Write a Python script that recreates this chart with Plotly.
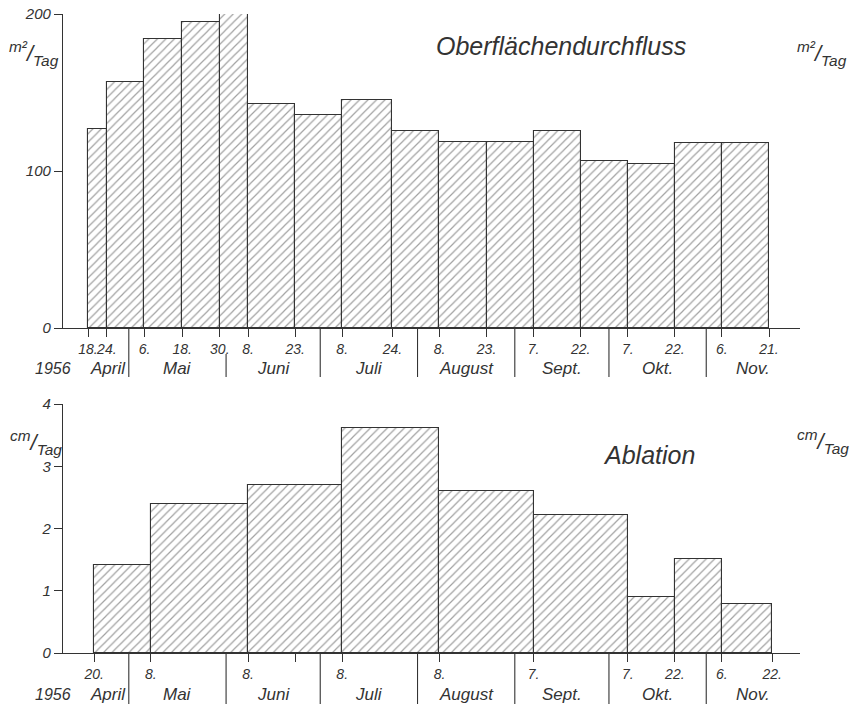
import datetime as dt
import plotly.graph_objects as go

# ---------------- data ----------------
flow_edges = ["1956-04-18", "1956-04-24", "1956-05-06", "1956-05-18", "1956-05-30",
              "1956-06-08", "1956-06-23", "1956-07-08", "1956-07-24", "1956-08-08",
              "1956-08-23", "1956-09-07", "1956-09-22", "1956-10-07", "1956-10-22",
              "1956-11-06", "1956-11-21"]
flow_values = [126.6, 156.9, 184, 195, 200, 142.7, 135.7, 145.2, 125.3, 118.3,
               118.3, 125.7, 106.6, 104.3, 117.8, 117.8]
flow_tick_dates = flow_edges
flow_tick_text = ["18.", "24.", "6.", "18.", "30.", "8.", "23.", "8.", "24.", "8.",
                  "23.", "7.", "22.", "7.", "22.", "6.", "21."]

abl_edges = ["1956-04-20", "1956-05-08", "1956-06-08", "1956-07-08", "1956-08-08",
             "1956-09-07", "1956-10-07", "1956-10-22", "1956-11-06", "1956-11-22"]
abl_values = [1.41, 2.40, 2.70, 3.62, 2.61, 2.22, 0.90, 1.51, 0.79]
abl_tick_dates = ["1956-04-20", "1956-05-08", "1956-06-08", "1956-06-23", "1956-07-08",
                  "1956-08-08", "1956-09-07", "1956-10-07", "1956-10-22", "1956-11-06",
                  "1956-11-22"]
abl_tick_text = ["20.", "8.", "8.", "", "8.", "8.", "7.", "7.", "22.", "6.", "22."]

months = ["April", "Mai", "Juni", "Juli", "August", "Sept.", "Okt.", "Nov."]
month_starts = ["1956-04-01", "1956-05-01", "1956-06-01", "1956-07-01", "1956-08-01",
                "1956-09-01", "1956-10-01", "1956-11-01", "1956-12-01"]
year_label = "1956"

flow_ticks_y = [0, 100, 200]
abl_ticks_y = [0, 1, 2, 3, 4]

# ---------------- helpers ----------------
def doy(s):
    d = dt.date.fromisoformat(s)
    return (d - dt.date(1956, 1, 1)).days + 1

W, H = 857, 704
INK = "#333333"
FONT = "Liberation Sans"

def px_x(p):
    return p / W

def px_y(p):
    return 1 - p / H

def bars(edges, values, xa, ya):
    e = [doy(s) for s in edges]
    mids = [(a + b) / 2 for a, b in zip(e[:-1], e[1:])]
    widths = [b - a for a, b in zip(e[:-1], e[1:])]
    return go.Bar(
        x=mids, y=values, width=widths, xaxis=xa, yaxis=ya,
        marker=dict(color="white",
                    line=dict(color=INK, width=1.1),
                    pattern=dict(shape="/", size=6, solidity=0.2,
                                 fgcolor="#444444", bgcolor="white")),
        showlegend=False, hoverinfo="skip")

fig = go.Figure()
fig.add_trace(bars(flow_edges, flow_values, "x", "y"))
fig.add_trace(bars(abl_edges, abl_values, "x2", "y2"))

xrange_ = [98.484, 335.878]
xdom = [px_x(55), px_x(800)]
xtick_font = dict(family=FONT, size=14, color=INK, style="italic")
ytick_font = dict(family=FONT, size=15, color=INK, style="italic")

def xaxis(tick_dates, tick_text, anchor):
    return dict(domain=xdom, range=xrange_, anchor=anchor, showline=True,
                linecolor=INK, linewidth=1.2, ticks="outside", ticklen=8,
                tickcolor=INK, tickwidth=1.1, tickangle=0, automargin=False,
                tickvals=[doy(s) for s in tick_dates], ticktext=tick_text,
                tickfont=xtick_font, showgrid=False, zeroline=False, fixedrange=True)

def yaxis(dom, rng, ticks, pos, side, overlay=None):
    d = dict(domain=dom, range=rng, anchor="free", position=pos, side=side,
             showline=True, linecolor=INK, linewidth=1.2, ticks="outside",
             ticklen=8, tickcolor=INK, tickwidth=1.1, tickvals=ticks,
             ticktext=[str(t) for t in ticks], tickfont=ytick_font, automargin=False,
             showgrid=False, zeroline=False, fixedrange=True)
    if overlay:
        d["overlaying"] = overlay
    return d

top_dom = [px_y(328), px_y(14)]
bot_dom = [px_y(653), px_y(404)]

fig.update_layout(
    width=W, height=H, margin=dict(l=0, r=0, t=0, b=0, autoexpand=False),
    paper_bgcolor="white", plot_bgcolor="rgba(0,0,0,0)",
    bargap=0,
    xaxis=xaxis(flow_tick_dates, flow_tick_text, "y"),
    xaxis2=xaxis(abl_tick_dates, abl_tick_text, "y2"),
    yaxis=yaxis(top_dom, [0, 200], flow_ticks_y, px_x(62), "left"),
    yaxis3=yaxis(top_dom, [0, 200], flow_ticks_y, px_x(793), "right", "y"),
    yaxis2=yaxis(bot_dom, [0, 4], abl_ticks_y, px_x(62), "left"),
    yaxis4=yaxis(bot_dom, [0, 4], abl_ticks_y, px_x(793), "right", "y2"),
)

# ---------------- month rows ----------------
shapes = []
annotations = []

def ann(x, y, text, font, xref="paper"):
    annotations.append(dict(x=x, y=y, xref=xref, yref="paper", text=text,
                            showarrow=False, xanchor="center", yanchor="middle",
                            font=font))

def month_row(tick_dates, tick_text, xref, base_px, label_px, sep_bottom_px, first):
    labelled = [doy(d) for d, t in zip(tick_dates, tick_text) if t]
    for i, m in enumerate(months):
        a = max(doy(month_starts[i]), doy(first))
        b = doy(month_starts[i + 1])
        ann((a + b) / 2, px_y(label_px), m,
            dict(family=FONT, size=17, color=INK, style="italic"), xref)
    for s in month_starts[1:-1]:
        xv = doy(s)
        near = any(abs(xv - t) <= 3 for t in labelled)
        y0 = base_px + 26 if near else base_px
        shapes.append(dict(type="line", xref=xref, yref="paper", x0=xv, x1=xv,
                           y0=px_y(y0), y1=px_y(sep_bottom_px),
                           line=dict(color=INK, width=1.1)))
    ann(px_x(53), px_y(label_px), year_label,
        dict(family=FONT, size=16, color=INK, style="italic"))

month_row(flow_tick_dates, flow_tick_text, "x", 328, 368, 377, flow_edges[0])
month_row(abl_tick_dates, abl_tick_text, "x2", 653, 694, 704, flow_edges[0])

# ---------------- titles and units ----------------
title_font = dict(family=FONT, size=25, color=INK, style="italic")
ann(px_x(561), px_y(46), "Oberflächendurchfluss", title_font)
ann(px_x(649), px_y(455), "Ablation", title_font)

unit_font = dict(family=FONT, size=22, color=INK, style="italic")
for xp, yp, txt in [(34, 53, "<sup>m²</sup>/<sub>Tag</sub>"),
                    (822, 53, "<sup>m²</sup>/<sub>Tag</sub>"),
                    (36, 442, "<sup>cm</sup>/<sub>Tag</sub>"),
                    (823, 441, "<sup>cm</sup>/<sub>Tag</sub>")]:
    ann(px_x(xp), px_y(yp), txt, unit_font)

fig.update_layout(shapes=shapes, annotations=annotations)
fig.write_html("out.html", config={"displayModeBar": False},
               post_script="document.body.style.margin='0';document.body.style.padding='0';")
